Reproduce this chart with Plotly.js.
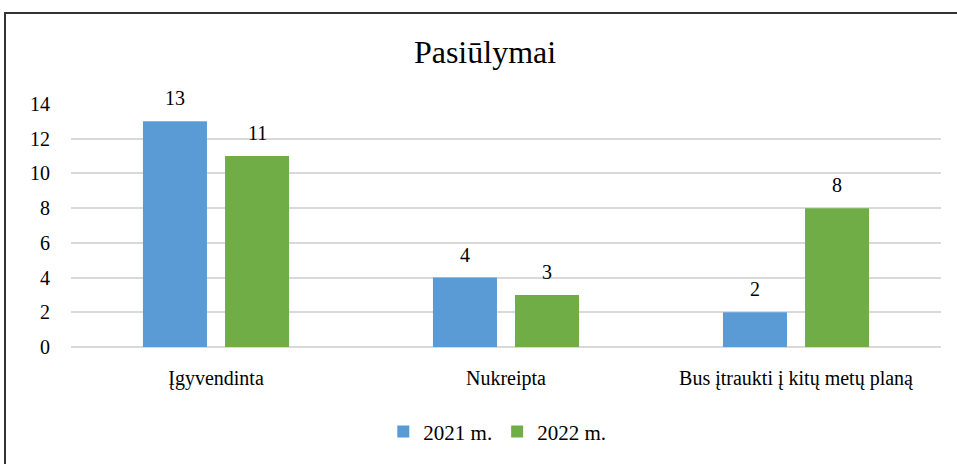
<!DOCTYPE html>
<html>
<head>
<meta charset="utf-8">
<script src="https://cdn.plot.ly/plotly-3.0.1.min.js"></script>
<style>
html,body{margin:0;padding:0;background:#fff;overflow:hidden;}
#chart{width:957px;height:464px;}
#title{position:absolute;left:0;top:33px;width:970px;text-align:center;font-family:'Liberation Serif';font-size:32px;line-height:38px;color:#000;z-index:10;}
.modebar-container,.modebar{display:none !important;}
</style>
</head>
<body>
<div id="title">Pasiūlymai</div>
<div id="chart"></div>
<script>
var categories = ["Įgyvendinta", "Nukreipta", "Bus įtraukti į kitų metų planą"];
var series2021 = [13, 4, 2];
var series2022 = [11, 3, 8];
var seriesNames = ["2021 m.", "2022 m."];
var yTicks = [0, 2, 4, 6, 8, 10, 12, 14];

var colors = ["#5B9BD5", "#70AD47"];
var seriesVals = [series2021, series2022];

var traces = seriesVals.map(function (vals, i) {
  return {
    type: "bar",
    name: seriesNames[i],
    x: categories,
    y: vals,
    marker: { color: colors[i] }
  };
});

var annotations = [];
seriesVals.forEach(function (vals, i) {
  vals.forEach(function (v, j) {
    annotations.push({
      x: categories[j], y: v, xref: "x", yref: "y",
      text: String(v), showarrow: false,
      xanchor: "center", yanchor: "bottom",
      xshift: i === 0 ? -41 : 41, yshift: 10,
      font: { size: 20, color: "#000" }
    });
  });
});

var layout = {
  width: 957, height: 464,
  margin: { l: 71, r: 16, t: 104, b: 112 },
  font: { family: "Liberation Serif", size: 20, color: "#000" },
  barmode: "group",
  bargap: 0.434,
  bargroupgap: 0.22,
  showlegend: true,
  legend: {
    orientation: "h", x: 0.49, xanchor: "center", y: -0.265, yanchor: "top",
    font: { size: 21 },
    itemwidth: 30, traceorder: "normal"
  },
  xaxis: {
    type: "category",
    ticks: "outside", ticklen: 13, tickcolor: "rgba(0,0,0,0)",
    showline: false, showgrid: false
  },
  yaxis: {
    range: [0, 14], tickvals: yTicks,
    ticks: "outside", ticklen: 16, tickcolor: "rgba(0,0,0,0)",
    showgrid: true, gridcolor: "#D9D9D9", gridwidth: 1.5,
    zeroline: true, zerolinecolor: "#D9D9D9", zerolinewidth: 1.5,
    showline: false
  },
  annotations: annotations,
  shapes: [{
    type: "rect", xref: "paper", yref: "paper",
    x0: (5 - 71) / 870, x1: (964 - 71) / 870,
    y0: (352 - 475) / 248, y1: 1 + (104 - 11) / 248,
    line: { color: "#333", width: 2 }, fillcolor: "rgba(0,0,0,0)", layer: "below"
  }]
};

Plotly.newPlot("chart", traces, layout);
</script>
</body>
</html>
